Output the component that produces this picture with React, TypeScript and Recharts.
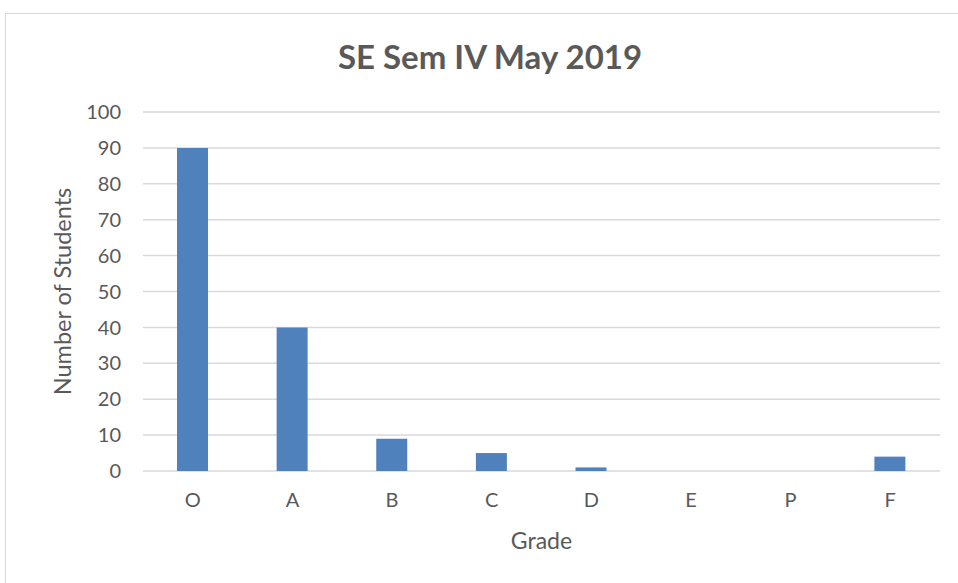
import { BarChart, Bar, XAxis, YAxis, CartesianGrid } from 'recharts'

const grades = ['O', 'A', 'B', 'C', 'D', 'E', 'P', 'F']
const students = [90, 40, 9, 5, 1, 0, 0, 4]
const yTicks = [0, 10, 20, 30, 40, 50, 60, 70, 80, 90, 100]

const data = grades.map((g, i) => ({ grade: g, students: students[i] }))

const FONT = 'Lato, "Open Sans", sans-serif'
const TEXT = '#595959'

export default function App() {
  return (
    <div style={{ position: 'absolute', left: 0, top: 0, width: 958, height: 583, overflow: 'hidden', background: '#fff' }}>
      <div style={{ position: 'absolute', left: 5, top: 13, width: 1000, height: 1000, border: '1px solid #d9d9d9' }} />
      <div style={{
        position: 'absolute', left: 240, width: 500, top: 36, textAlign: 'center', lineHeight: '40px',
        fontFamily: FONT, fontWeight: 700, fontSize: 33, color: TEXT,
      }}>SE Sem IV May 2019</div>
      <div style={{ position: 'absolute', left: 0, top: 0 }}>
        <BarChart width={958} height={583} data={data} margin={{ top: 112, right: 18, bottom: 52, left: 43 }}>
          <CartesianGrid vertical={false} stroke="#d9d9d9" strokeWidth={1.5} />
          <XAxis
            dataKey="grade"
            axisLine={false}
            tickLine={false}
            tickSize={0}
            tickMargin={22}
            height={60}
            tick={{ fontSize: 20, fill: TEXT, fontFamily: FONT }}
            label={{
              position: 'insideBottom',
              content: ({ viewBox }: any) => (
                <text x={viewBox.x + viewBox.width / 2} y={viewBox.y + 78} textAnchor="middle"
                  fontSize={23} fill={TEXT} fontFamily={FONT}>Grade</text>
              ),
            }}
          />
          <YAxis
            domain={[0, 100]}
            ticks={yTicks}
            axisLine={false}
            tickLine={false}
            tickSize={0}
            tickMargin={22}
            width={100}
            interval={0}
            tick={{ fontSize: 20, fill: TEXT, fontFamily: FONT }}
            label={{
              position: 'insideLeft',
              content: ({ viewBox }: any) => {
                const x = viewBox.x + 19
                const y = viewBox.y + viewBox.height / 2
                return (
                  <text x={x} y={y} transform={`rotate(-90 ${x} ${y})`} textAnchor="middle"
                    dominantBaseline="central" fontSize={23.5} fill={TEXT} fontFamily={FONT}>Number of Students</text>
                )
              },
            }}
          />
          <Bar dataKey="students" fill="#4f81bd" barSize={31} isAnimationActive={false} />
        </BarChart>
      </div>
    </div>
  )
}
